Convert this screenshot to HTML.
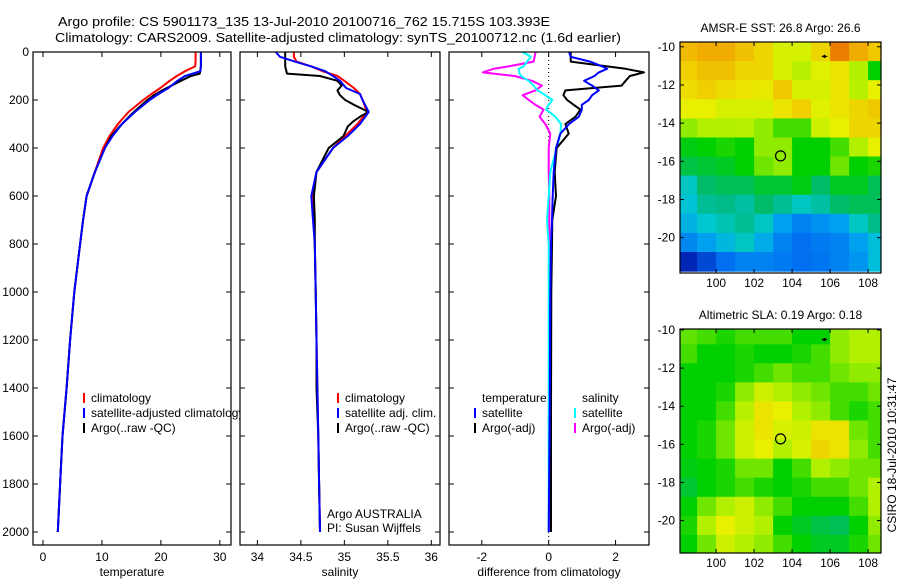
<!DOCTYPE html>
<html><head><meta charset="utf-8">
<style>
html,body{margin:0;padding:0;background:#fff;}
svg{display:block;font-family:"Liberation Sans",sans-serif;}
text{font-size:12px;fill:#000;}
</style></head>
<body>
<svg id="chart" width="900" height="580" viewBox="0 0 900 580" xmlns="http://www.w3.org/2000/svg">
<text x="58" y="26" textLength="492" lengthAdjust="spacingAndGlyphs" style="font-size:13px">Argo profile: CS 5901173_135 13-Jul-2010 20100716_762 15.715S 103.393E</text>
<text x="55" y="42" textLength="566" lengthAdjust="spacingAndGlyphs" style="font-size:13px">Climatology: CARS2009. Satellite-adjusted climatology: synTS_20100712.nc (1.6d earlier)</text>
<g id="layer"></g>
</svg>
<script>
// ---------- data ----------
const depthClim = [0,20,40,60,80,100,120,150,175,200,250,300,350,400,500,600,700,800,1000,1200,1400,1600,1800,2000];
const tempClim = [25.9,25.9,25.9,25.8,24.1,22.7,21.5,19.9,18.4,17.0,14.5,12.7,11.3,10.2,8.8,7.4,6.8,6.3,5.3,4.6,4.0,3.3,2.9,2.5];
const tempSat = [26.8,26.8,26.8,26.8,26.7,24.1,22.8,21.3,19.6,18.1,15.6,13.4,11.8,10.5,8.8,7.4,6.8,6.3,5.3,4.6,4.0,3.3,2.9,2.5];
const salClim = [34.42,34.42,34.45,34.62,34.75,34.92,35.0,35.11,35.18,35.21,35.26,35.15,35.01,34.87,34.68,34.63,34.65,34.66,34.67,34.68,34.69,34.70,34.71,34.72];
const salSat = [34.21,34.26,34.43,34.62,34.78,34.87,34.95,35.02,35.18,35.21,35.28,35.18,35.04,34.87,34.68,34.62,34.64,34.66,34.67,34.68,34.69,34.70,34.71,34.72];
const depthArgo = [0,60,90,100,120,140,160,180,200,220,250,265,290,310,350,400,500,600,700,800,1000,1200,1400,1600,1800,2000];
const tempArgo = [26.8,26.8,26.6,25.1,23.4,21.8,20.2,18.8,17.7,16.8,15.4,14.8,13.8,13.0,11.6,10.5,8.8,7.4,6.8,6.3,5.3,4.6,4.0,3.3,2.9,2.5];
const salArgo = [34.32,34.32,34.34,34.72,34.92,34.97,34.92,34.95,35.01,35.11,35.28,35.2,35.1,35.04,34.99,34.82,34.68,34.65,34.66,34.66,34.67,34.68,34.68,34.70,34.71,34.72];
const depthDiff = [0,20,40,60,70,85,100,120,140,160,180,200,220,240,270,300,340,400,500,600,700,800,1000,1500,2000];
const diffTempSat = [0.61,0.66,1.24,1.6,1.75,1.5,1.37,1.06,1.3,1.5,1.3,1.2,0.99,0.99,0.9,0.61,0.35,0.22,0.15,0.12,0.1,0.07,0.05,0.03,0.0];
const diffTempArgo = [0.66,0.66,0.66,1.75,2.3,2.85,2.43,2.3,2.18,0.5,0.44,0.55,0.75,0.95,0.8,0.5,0.6,0.24,0.18,0.22,0.11,0.1,0.08,0.07,0.07];
const diffSalSat = [-0.78,-0.53,-0.65,-0.75,-0.9,-0.88,-0.83,-0.6,-0.45,-0.33,-0.1,0.11,0.0,-0.08,0.2,0.37,0.35,0.24,0.05,0.0,-0.05,0.0,0.0,0.0,0.0];
const diffSalArgo = [-0.39,-0.42,-0.45,-1.2,-1.65,-1.97,-1.02,-0.5,-0.2,-0.4,-0.78,-0.59,-0.4,-0.15,-0.27,-0.1,0.05,0.0,0.0,0.02,0.02,0.02,0.02,0.02,0.02];
const depthTicks = [0,200,400,600,800,1000,1200,1400,1600,1800,2000];
const tempTicks = [0,10,20,30];
const salTicks = [34,34.5,35,35.5,36];
const diffTicks = [-2,0,2];
const lonTicks = [100,102,104,106,108];
const latTicks = [-10,-12,-14,-16,-18,-20];
const gridLons = [98,99,100,101,102,103,104,105,106,107,108];
const gridLats = [-9.75,-10.75,-11.75,-12.75,-13.75,-14.75,-15.75,-16.75,-17.75,-18.75,-19.75,-20.75];
const sstGrid = [
[0.76,0.78,0.78,0.75,0.72,0.66,0.66,0.72,0.85,0.78,0.74],
[0.73,0.75,0.75,0.72,0.72,0.66,0.63,0.67,0.70,0.62,0.50],
[0.71,0.73,0.71,0.70,0.69,0.74,0.66,0.66,0.70,0.63,0.68],
[0.68,0.68,0.66,0.66,0.66,0.70,0.73,0.67,0.70,0.72,0.74],
[0.60,0.62,0.62,0.63,0.60,0.55,0.55,0.65,0.68,0.72,0.72],
[0.49,0.50,0.52,0.50,0.60,0.60,0.50,0.50,0.55,0.62,0.68],
[0.46,0.47,0.48,0.50,0.58,0.60,0.50,0.50,0.58,0.50,0.52],
[0.38,0.44,0.45,0.45,0.47,0.47,0.49,0.44,0.48,0.48,0.45],
[0.36,0.41,0.42,0.40,0.44,0.41,0.38,0.40,0.44,0.45,0.45],
[0.33,0.37,0.39,0.41,0.38,0.30,0.24,0.27,0.30,0.38,0.42],
[0.25,0.30,0.34,0.38,0.32,0.24,0.20,0.22,0.24,0.30,0.35],
[0.08,0.14,0.20,0.24,0.24,0.22,0.20,0.21,0.24,0.28,0.35]];
const slaGrid = [
[0.57,0.55,0.52,0.55,0.55,0.55,0.50,0.50,0.60,0.62,0.62],
[0.55,0.50,0.50,0.52,0.50,0.50,0.52,0.55,0.60,0.62,0.62],
[0.50,0.50,0.50,0.52,0.55,0.58,0.55,0.55,0.58,0.60,0.60],
[0.50,0.50,0.52,0.60,0.65,0.62,0.60,0.58,0.55,0.55,0.58],
[0.50,0.50,0.55,0.63,0.70,0.68,0.62,0.60,0.55,0.52,0.55],
[0.50,0.52,0.58,0.65,0.70,0.66,0.65,0.70,0.70,0.58,0.55],
[0.50,0.52,0.58,0.65,0.68,0.62,0.66,0.72,0.70,0.60,0.55],
[0.49,0.50,0.52,0.58,0.58,0.50,0.55,0.62,0.60,0.58,0.58],
[0.47,0.50,0.52,0.55,0.52,0.50,0.52,0.55,0.55,0.58,0.62],
[0.50,0.58,0.62,0.65,0.60,0.55,0.50,0.50,0.50,0.55,0.62],
[0.52,0.62,0.68,0.65,0.62,0.50,0.48,0.46,0.45,0.50,0.60],
[0.50,0.58,0.65,0.62,0.60,0.55,0.50,0.48,0.48,0.52,0.58]];
const floatLon = 103.393, floatLat = -15.715;

// ---------- helpers ----------
const NS = "http://www.w3.org/2000/svg";
const layer = document.getElementById('layer');
function mk(tag, attrs, parent){ const e=document.createElementNS(NS,tag); for(const k in attrs) e.setAttribute(k,attrs[k]); (parent||layer).appendChild(e); return e; }
function txt(x,y,s,anchor,parent){ const t=mk('text',{x:x,y:y,'text-anchor':anchor||'start'},parent); t.textContent=s; return t; }

const TOP=52, PXM=0.24, BOT=545;
const yD = d => TOP + d*PXM;
const panels = [
 {x0:33,x1:231,lo:-1.7,hi:31.9,ticks:tempTicks,label:'temperature',name:'temperature'},
 {x0:240,x1:440,lo:33.8,hi:36.1,ticks:salTicks,label:'salinity',name:'salinity'},
 {x0:449,x1:649,lo:-2.98,hi:3.0,ticks:diffTicks,label:'difference from climatology',name:'difference'}];
panels.forEach(p=>{ p.sx = v => p.x0 + (v-p.lo)/(p.hi-p.lo)*(p.x1-p.x0); });

function line(panel, depths, vals, color, w, name){
  const pts = depths.map((d,i)=> panel.sx(vals[i]).toFixed(1)+','+yD(d).toFixed(1)).join(' ');
  const pl = mk('polyline',{points:pts,fill:'none',stroke:color,'stroke-width':w,'stroke-linejoin':'round'});
  
  
}

function drawPanel(i){
  const p=panels[i];
  const g = mk('g',{});
  
  
  mk('rect',{x:p.x0,y:TOP,width:p.x1-p.x0,height:BOT-TOP,fill:'#fff',stroke:'none'},g);
  return g;
}
function frame(i){
  const p=panels[i];
  const r = mk('rect',{x:p.x0,y:TOP,width:p.x1-p.x0,height:BOT-TOP,fill:'none',stroke:'#000','stroke-width':1.2});
  
  
  depthTicks.forEach(d=>{
    mk('line',{x1:p.x0,x2:p.x0+5,y1:yD(d),y2:yD(d),stroke:'#000'});
    mk('line',{x1:p.x1,x2:p.x1-5,y1:yD(d),y2:yD(d),stroke:'#000'});
    if(i===0){ const t=txt(p.x0-4,yD(d)+4,String(d),'end');   }
  });
  p.ticks.forEach(v=>{
    const x=p.sx(v);
    mk('line',{x1:x,x2:x,y1:BOT,y2:BOT-5,stroke:'#000'});
    mk('line',{x1:x,x2:x,y1:TOP,y2:TOP+5,stroke:'#000'});
    const t=txt(x,561,String(v),'middle');
    
    
  });
  const xl = txt((p.x0+p.x1)/2,576,p.label,'middle');
  
  
}
function legendItem(mx, tx, y, color, label, name){
  mk('line',{x1:mx,x2:mx,y1:y-9,y2:y+1,stroke:color,'stroke-width':2});
  const t=txt(tx,y,label,'start');
  
  
}

// Panel 1 temperature
drawPanel(0);
line(panels[0], depthClim, tempClim, '#f00', 2, 'temperature-climatology-line');
line(panels[0], depthArgo, tempArgo, '#000', 2, 'temperature-argo-line');
line(panels[0], depthClim, tempSat, '#00f', 2, 'temperature-satellite-line');
legendItem(84,91,402,'#f00','climatology','legend-climatology');
legendItem(84,91,417,'#00f','satellite-adjusted climatology','legend-satellite-adjusted');
legendItem(84,91,432,'#000','Argo(..raw -QC)','legend-argo');
frame(0);

// Panel 2 salinity
drawPanel(1);
line(panels[1], depthClim, salClim, '#f00', 2, 'salinity-climatology-line');
line(panels[1], depthArgo, salArgo, '#000', 2, 'salinity-argo-line');
line(panels[1], depthClim, salSat, '#00f', 2, 'salinity-satellite-line');
legendItem(338,345,402,'#f00','climatology','legend-sal-climatology');
legendItem(338,345,417,'#00f','satellite adj. clim.','legend-sal-satellite');
legendItem(338,345,432,'#000','Argo(..raw -QC)','legend-sal-argo');
{ const t=txt(327,518,'Argo AUSTRALIA');  
  const t2=txt(327,532,'PI: Susan Wijffels');   }
frame(1);

// Panel 3 differences
drawPanel(2);
{ const z=panels[2].sx(0); mk('line',{x1:z,x2:z,y1:TOP,y2:BOT,stroke:'#000','stroke-dasharray':'1,3'}); }
line(panels[2], depthDiff, diffSalArgo, '#f0f', 2, 'salinity-argo-diff-line');
line(panels[2], depthDiff, diffSalSat, '#0ff', 2, 'salinity-satellite-diff-line');
line(panels[2], depthDiff, diffTempArgo, '#000', 2, 'temperature-argo-diff-line');
line(panels[2], depthDiff, diffTempSat, '#00f', 2, 'temperature-satellite-diff-line');
{ const t=txt(482,402,'temperature');  
  const t2=txt(582,402,'salinity');   }
legendItem(475,482,417,'#00f','satellite','legend-diff-temp-satellite');
legendItem(475,482,432,'#000','Argo(-adj)','legend-diff-temp-argo');
legendItem(575,582,417,'#0ff','satellite','legend-diff-sal-satellite');
legendItem(575,582,432,'#f0f','Argo(-adj)','legend-diff-sal-argo');
frame(2);

// ---------- maps ----------
const stops = [[0,[0,0,144]],[0.1,[0,48,192]],[0.2,[0,112,240]],[0.3,[0,160,240]],[0.37,[0,200,208]],[0.43,[0,184,120]],[0.5,[0,208,0]],[0.56,[80,224,0]],[0.62,[176,240,0]],[0.68,[232,240,0]],[0.74,[240,200,0]],[0.82,[240,144,0]],[0.92,[224,80,0]],[1,[200,40,0]]];
function cmap(v){
  for(let i=1;i<stops.length;i++){ if(v<=stops[i][0]){ const a=stops[i-1],b=stops[i]; const f=(v-a[0])/(b[0]-a[0]);
    return 'rgb('+a[1].map((c,k)=>Math.round(c+(b[1][k]-c)*f)).join(',')+')'; } }
  return 'rgb(200,40,0)';
}
const MX0=680, MX1=881, LON0=98.1, LON1=108.68;
const sLon = lon => MX0 + (lon-LON0)/(LON1-LON0)*(MX1-MX0);
function drawMap(top, bottom, latTop, latBot, grid, title, name){
  const sLat = lat => top + (latTop-lat)/(latTop-latBot)*(bottom-top);
  const g = mk('g',{});
  
  
  const cid = name+'-clip';
  const cp = mk('clipPath',{id:cid},g);
  mk('rect',{x:MX0,y:top,width:MX1-MX0,height:bottom-top},cp);
  const cells = mk('g',{'clip-path':'url(#'+cid+')'},g);
  grid.forEach((row,r)=>row.forEach((v,c)=>{
    const x0=sLon(gridLons[c]), x1=sLon(gridLons[c]+1), y0=sLat(gridLats[r]), y1=sLat(gridLats[r]-1);
    const rc = mk('rect',{x:x0.toFixed(1),y:y0.toFixed(1),width:(x1-x0+0.6).toFixed(1),height:(y1-y0+0.6).toFixed(1),fill:cmap(v)},cells);
    
    
  }));
  mk('rect',{x:MX0,y:top,width:MX1-MX0,height:bottom-top,fill:'none',stroke:'#000','stroke-width':1.2},g);
  lonTicks.forEach(l=>{ const x=sLon(l);
    mk('line',{x1:x,x2:x,y1:top,y2:top+4,stroke:'#000'},g); mk('line',{x1:x,x2:x,y1:bottom,y2:bottom-4,stroke:'#000'},g);
    const t=txt(x,bottom+14,String(l),'middle',g);   });
  latTicks.forEach(l=>{ const y=sLat(l);
    mk('line',{x1:MX0,x2:MX0+4,y1:y,y2:y,stroke:'#000'},g); mk('line',{x1:MX1,x2:MX1-4,y1:y,y2:y,stroke:'#000'},g);
    const t=txt(MX0-5,y+4,String(l),'end',g);   });
  const tt=txt((MX0+MX1)/2,top-10,title,'middle',g);
  
  
  const c=mk('circle',{cx:sLon(floatLon),cy:sLat(floatLat),r:5,fill:'none',stroke:'#000','stroke-width':1.2},g);
  
  
  const m=mk('path',{d:'M'+(sLon(105.7)-3)+','+sLat(-10.5)+' l4,-2 l0,1.5 l2,0 l0,1 l-2,0 l0,1.5 z',fill:'#000'},g);
  
  
}
drawMap(42, 273, -9.75, -21.85, sstGrid, 'AMSR-E SST: 26.8 Argo: 26.6', 'sst-map');
drawMap(329, 553, -9.95, -21.7, slaGrid, 'Altimetric SLA: 0.19 Argo: 0.18', 'sla-map');
{ const t=txt(0,0,'CSIRO 18-Jul-2010 10:31:47','middle'); t.setAttribute('transform','translate(896,455) rotate(-90)');
    }
</script>
</body></html>
